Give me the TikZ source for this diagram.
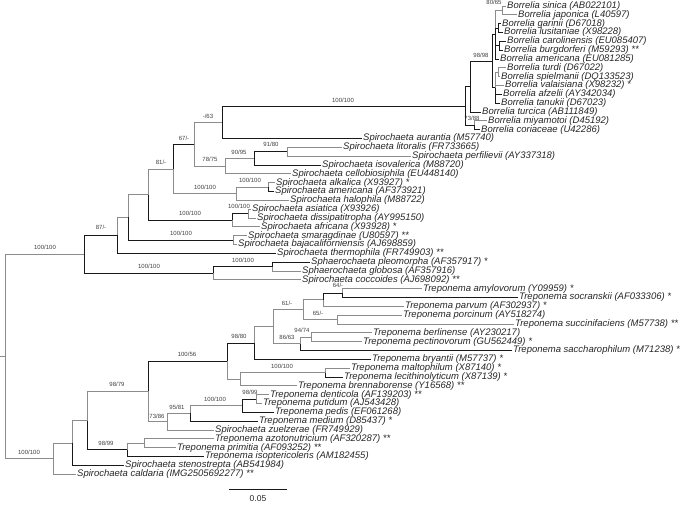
\documentclass[tikz,border=0pt]{standalone}
\usepackage{fontspec}
\setmainfont{Liberation Sans}
\begin{document}
\begin{tikzpicture}[x=1pt,y=-1pt,
 leaf/.style={anchor=west, inner xsep=1pt, inner ysep=0pt, font=\fontsize{9.5}{10}\selectfont\itshape, text=black!85},
 supp/.style={font=\fontsize{6}{6}\selectfont, text=black!75, inner sep=0pt},
 gy/.style={draw=black!45, line width=0.7pt},
 bk/.style={draw=black!90, line width=0.7pt}]
\useasboundingbox (0,0) rectangle (685,505);
% internal nodes
\coordinate (S) at (502,10.4);
\coordinate (G) at (498,28.1);
\coordinate (C) at (499,45.7);
\coordinate (B1) at (495,34.7);
\coordinate (T) at (498,72.2);
\coordinate (B2) at (495,87.65);
\coordinate (BB) at (492,61.2);
\coordinate (X) at (470,86.6);
\coordinate (M) at (474,125.2);
\coordinate (R) at (465,105.9);
\coordinate (N63) at (222,122.2);
\coordinate (N9180) at (287,151.7);
\coordinate (N9095) at (254,158.35);
\coordinate (N7875) at (225,166.1);
\coordinate (N67) at (194,144.15);
\coordinate (Nalk) at (268,187.05);
\coordinate (Nalk2) at (236,193.7);
\coordinate (N81) at (173,168.9);
\coordinate (Nasi) at (248,213.55);
\coordinate (Nasi2) at (232,220.2);
\coordinate (N148u) at (148,194.55);
\coordinate (Nsma) at (233,240.05);
\coordinate (N128) at (128,217.3);
\coordinate (N117) at (117,235.3);
\coordinate (Nsph) at (272,266.55);
\coordinate (Nsph2) at (213,273.2);
\coordinate (N87) at (84,254.25);
\coordinate (N64) at (342,293);
\coordinate (N323) at (323,299.65);
\coordinate (N65) at (337,319.5);
\coordinate (N61) at (303,309.6);
\coordinate (N9474) at (311,337.2);
\coordinate (N8663) at (300,343.8);
\coordinate (N273) at (273,326.7);
\coordinate (N9880) at (254,343);
\coordinate (Nmal) at (325,372.5);
\coordinate (N240) at (240,379.15);
\coordinate (N10056) at (227,361.1);
\coordinate (Nden) at (256,399);
\coordinate (N242) at (242,405.65);
\coordinate (N9581) at (190,413.4);
\coordinate (N7386) at (167,421.65);
\coordinate (N148t) at (148,391.4);
\coordinate (Nazo) at (144,443.2);
\coordinate (N127) at (127,449.8);
\coordinate (N87t) at (87,420.6);
\coordinate (N72) at (72,442.95);
\coordinate (N53) at (53,458.5);
\coordinate (Root) at (5,356.4);
\coordinate (Stub) at (0,356.4);
% leaves
\node[leaf] (l0) at (506,6) {Borrelia sinica (AB022101)};
\node[leaf] (l1) at (517,14.8) {Borrelia japonica (L40597)};
\node[leaf] (l2) at (501,23.7) {Borrelia garinii (D67018)};
\node[leaf] (l3) at (503,32.5) {Borrelia lusitaniae (X98228)};
\node[leaf] (l4) at (506,41.3) {Borrelia carolinensis (EU085407)};
\node[leaf] (l5) at (503,50.2) {Borrelia burgdorferi (M59293) **};
\node[leaf] (l6) at (499,59) {Borrelia americana (EU081285)};
\node[leaf] (l7) at (506,67.8) {Borrelia turdi (D67022)};
\node[leaf] (l8) at (500,76.6) {Borrelia spielmanii (DQ133523)};
\node[leaf] (l9) at (504,85.5) {Borrelia valaisiana (X98232) *};
\node[leaf] (l10) at (502,94.3) {Borrelia afzelii (AY342034)};
\node[leaf] (l11) at (500,103.1) {Borrelia tanukii (D67023)};
\node[leaf] (l12) at (481,112) {Borrelia turcica (AB111849)};
\node[leaf] (l13) at (487,120.8) {Borrelia miyamotoi (D45192)};
\node[leaf] (l14) at (480,129.6) {Borrelia coriaceae (U42286)};
\node[leaf] (l15) at (362,138.5) {Spirochaeta aurantia (M57740)};
\node[leaf] (l16) at (342,147.3) {Spirochaeta litoralis (FR733665)};
\node[leaf] (l17) at (411,156.1) {Spirochaeta perfilievii (AY337318)};
\node[leaf] (l18) at (321,165) {Spirochaeta isovalerica (M88720)};
\node[leaf] (l19) at (291,173.8) {Spirochaeta cellobiosiphila (EU448140)};
\node[leaf] (l20) at (275,182.6) {Spirochaeta alkalica (X93927) *};
\node[leaf] (l21) at (274,191.5) {Spirochaeta americana (AF373921)};
\node[leaf] (l22) at (289,200.3) {Spirochaeta halophila (M88722)};
\node[leaf] (l23) at (251,209.1) {Spirochaeta asiatica (X93926)};
\node[leaf] (l24) at (256,218) {Spirochaeta dissipatitropha (AY995150)};
\node[leaf] (l25) at (260,226.8) {Spirochaeta africana (X93928) *};
\node[leaf] (l26) at (247,235.6) {Spirochaeta smaragdinae (U80597) **};
\node[leaf] (l27) at (237,244.5) {Spirochaeta bajacaliforniensis (AJ698859)};
\node[leaf] (l28) at (276,253.3) {Spirochaeta thermophila (FR749903) **};
\node[leaf] (l29) at (310,262.1) {Sphaerochaeta pleomorpha (AF357917) *};
\node[leaf] (l30) at (301,271) {Sphaerochaeta globosa (AF357916)};
\node[leaf] (l31) at (301,279.8) {Spirochaeta coccoides (AJ698092) **};
\node[leaf] (l32) at (422,288.6) {Treponema amylovorum (Y09959) *};
\node[leaf] (l33) at (518,297.4) {Treponema socranskii (AF033306) *};
\node[leaf] (l34) at (404,306.3) {Treponema parvum (AF302937) *};
\node[leaf] (l35) at (402,315.1) {Treponema porcinum (AY518274)};
\node[leaf] (l36) at (514,323.9) {Treponema succinifaciens (M57738) **};
\node[leaf] (l37) at (372,332.8) {Treponema berlinense (AY230217)};
\node[leaf] (l38) at (362,341.6) {Treponema pectinovorum (GU562449) *};
\node[leaf] (l39) at (512,350.4) {Treponema saccharophilum (M71238) *};
\node[leaf] (l40) at (371,359.3) {Treponema bryantii (M57737) *};
\node[leaf] (l41) at (350,368.1) {Treponema maltophilum (X87140) *};
\node[leaf] (l42) at (343,376.9) {Treponema lecithinolyticum (X87139) *};
\node[leaf] (l43) at (297,385.8) {Treponema brennaborense (Y16568) **};
\node[leaf] (l44) at (269,394.6) {Treponema denticola (AF139203) **};
\node[leaf] (l45) at (262,403.4) {Treponema putidum (AJ543428)};
\node[leaf] (l46) at (274,412.3) {Treponema pedis (EF061268)};
\node[leaf] (l47) at (258,421.1) {Treponema medium (D85437) *};
\node[leaf] (l48) at (214,429.9) {Spirochaeta zuelzerae (FR749929)};
\node[leaf] (l49) at (214,438.8) {Treponema azotonutricium (AF320287) **};
\node[leaf] (l50) at (176,447.6) {Treponema primitia (AF093252) **};
\node[leaf] (l51) at (204,456.4) {Treponema isoptericolens (AM182455)};
\node[leaf] (l52) at (124,465.3) {Spirochaeta stenostrepta (AB541984)};
\node[leaf] (l53) at (76,474.1) {Spirochaeta caldaria (IMG2505692277) **};
% edges: Borrelia
\draw[gy] (S) |- (l0.west);
\draw[gy] (S) |- (l1.west);
\draw[bk] (G) |- (l2.west);
\draw[bk] (G) |- (l3.west);
\draw[bk] (C) |- (l4.west);
\draw[bk] (C) |- (l5.west);
\draw[gy] (B1) |- (S);
\draw[bk] (B1) |- (G);
\draw[bk] (B1) |- (C);
\draw[bk] (B1) |- (l6.west);
\draw[gy] (T) |- (l7.west);
\draw[gy] (T) |- (l8.west);
\draw[gy] (B2) |- (T);
\draw[gy] (B2) |- (l9.west);
\draw[bk] (B2) |- (l10.west);
\draw[bk] (B2) |- (l11.west);
\draw[bk] (BB) |- (B1);
\draw[bk] (BB) |- (B2);
\draw[bk] (X) |- (BB);
\draw[bk] (X) |- (l12.west);
\draw[gy] (M) |- (l13.west);
\draw[bk] (M) |- (l14.west);
\draw[bk] (R) |- (X);
\draw[bk] (R) |- (M);
\draw[bk] (N63) |- (R);
\draw[bk] (N63) |- (l15.west);
% Spirochaeta upper
\draw[gy] (N9180) |- (l16.west);
\draw[gy] (N9180) |- (l17.west);
\draw[bk] (N9095) |- (N9180);
\draw[bk] (N9095) |- (l18.west);
\draw[gy] (N7875) |- (N9095);
\draw[gy] (N7875) |- (l19.west);
\draw[gy] (N67) |- (N63);
\draw[gy] (N67) |- (N7875);
\draw[gy] (Nalk) |- (l20.west);
\draw[bk] (Nalk) |- (l21.west);
\draw[gy] (Nalk2) |- (Nalk);
\draw[gy] (Nalk2) |- (l22.west);
\draw[bk] (N81) |- (N67);
\draw[gy] (N81) |- (Nalk2);
\draw[gy] (Nasi) |- (l23.west);
\draw[gy] (Nasi) |- (l24.west);
\draw[bk] (Nasi2) |- (Nasi);
\draw[gy] (Nasi2) |- (l25.west);
\draw[gy] (N148u) |- (N81);
\draw[bk] (N148u) |- (Nasi2);
\draw[gy] (Nsma) |- (l26.west);
\draw[gy] (Nsma) |- (l27.west);
\draw[gy] (N128) |- (N148u);
\draw[bk] (N128) |- (Nsma);
\draw[gy] (N117) |- (N128);
\draw[bk] (N117) |- (l28.west);
\draw[bk] (Nsph) |- (l29.west);
\draw[gy] (Nsph) |- (l30.west);
\draw[bk] (Nsph2) |- (Nsph);
\draw[gy] (Nsph2) |- (l31.west);
\draw[bk] (N87) |- (N117);
\draw[bk] (N87) |- (Nsph2);
% Treponema
\draw[gy] (N64) |- (l32.west);
\draw[bk] (N64) |- (l33.west);
\draw[bk] (N323) |- (N64);
\draw[gy] (N323) |- (l34.west);
\draw[gy] (N65) |- (l35.west);
\draw[gy] (N65) |- (l36.west);
\draw[gy] (N61) |- (N323);
\draw[gy] (N61) |- (N65);
\draw[gy] (N9474) |- (l37.west);
\draw[gy] (N9474) |- (l38.west);
\draw[gy] (N8663) |- (N9474);
\draw[bk] (N8663) |- (l39.west);
\draw[gy] (N273) |- (N61);
\draw[gy] (N273) |- (N8663);
\draw[gy] (N9880) |- (N273);
\draw[bk] (N9880) |- (l40.west);
\draw[gy] (Nmal) |- (l41.west);
\draw[bk] (Nmal) |- (l42.west);
\draw[gy] (N240) |- (Nmal);
\draw[gy] (N240) |- (l43.west);
\draw[bk] (N10056) |- (N9880);
\draw[gy] (N10056) |- (N240);
\draw[gy] (Nden) |- (l44.west);
\draw[gy] (Nden) |- (l45.west);
\draw[bk] (N242) |- (Nden);
\draw[bk] (N242) |- (l46.west);
\draw[gy] (N9581) |- (N242);
\draw[bk] (N9581) |- (l47.west);
\draw[gy] (N7386) |- (N9581);
\draw[gy] (N7386) |- (l48.west);
\draw[bk] (N148t) |- (N10056);
\draw[gy] (N148t) |- (N7386);
\draw[gy] (Nazo) |- (l49.west);
\draw[gy] (Nazo) |- (l50.west);
\draw[gy] (N127) |- (Nazo);
\draw[bk] (N127) |- (l51.west);
\draw[gy] (N87t) |- (N148t);
\draw[bk] (N87t) |- (N127);
\draw[gy] (N72) |- (N87t);
\draw[bk] (N72) |- (l52.west);
\draw[gy] (N53) |- (N72);
\draw[gy] (N53) |- (l53.west);
\draw[gy] (Root) |- (N87);
\draw[gy] (Root) |- (N53);
\draw[gy] (Stub) -- (Root);
% support values
\node[supp] (s1) at (494,2.5) {80/65};
\node[supp] (s2) at (481,55.5) {98/98};
\node[supp] (s3) at (472,118.5) {73/88};
\node[supp] (s4) at (343,100) {100/100};
\node[supp] (s5) at (208,116) {-/63};
\node[supp] (s6) at (184,138) {67/-};
\node[supp] (s7) at (210,159) {78/75};
\node[supp] (s8) at (239,152) {90/95};
\node[supp] (s9) at (271,144) {91/80};
\node[supp] (s10) at (161,162) {81/-};
\node[supp] (s11) at (205,187) {100/100};
\node[supp] (s12) at (250,180) {100/100};
\node[supp] (s13) at (239,206) {100/100};
\node[supp] (s14) at (190,213) {100/100};
\node[supp] (s15) at (181,233) {100/100};
\node[supp] (s16) at (101,227) {87/-};
\node[supp] (s17) at (149,266) {100/100};
\node[supp] (s18) at (243,260) {100/100};
\node[supp] (s19) at (45,247) {100/100};
\node[supp] (s20) at (338,285.8) {64/-};
\node[supp] (s21) at (287,303) {61/-};
\node[supp] (s22) at (318,313) {65/-};
\node[supp] (s23) at (302,330) {94/74};
\node[supp] (s24) at (287,337) {86/63};
\node[supp] (s25) at (239,336) {98/80};
\node[supp] (s26) at (282,366) {100/100};
\node[supp] (s27) at (187,354) {100/56};
\node[supp] (s28) at (250,392) {98/99};
\node[supp] (s29) at (215,399) {100/100};
\node[supp] (s30) at (177,407) {95/81};
\node[supp] (s31) at (157,416) {73/86};
\node[supp] (s32) at (117,384) {98/79};
\node[supp] (s33) at (106,443) {98/99};
\node[supp] (s34) at (29,452) {100/100};
% scale bar
\coordinate (sb1) at (229,489);
\coordinate (sb2) at (287,489);
\draw[bk] (sb1) -- (sb2);
\node[font=\fontsize{8.5}{9}\selectfont, text=black!85] (sbl) at (258,499) {0.05};
\end{tikzpicture}
\end{document}
